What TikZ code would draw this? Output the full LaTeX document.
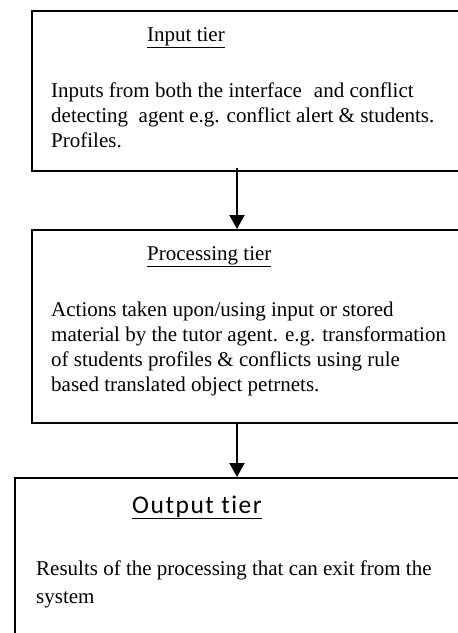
\documentclass[tikz,border=0pt]{standalone}
\usepackage{fontspec}
\setmainfont{Liberation Serif}
\newfontfamily\calfont[Ligatures=NoCommon,LetterSpace=6]{Carlito}
\usetikzlibrary{arrows.meta}
\tikzset{
  tier/.style={draw=black, line width=1.6pt, inner sep=0pt, anchor=north west},
  body/.style={anchor=base west, inner sep=0pt, font=\fontsize{21}{25}\selectfont},
  head/.style={anchor=base west, inner sep=0pt, font=\fontsize{21}{25}\selectfont},
  outhead/.style={anchor=base west, inner sep=0pt, font=\calfont\fontsize{25.5}{30}\selectfont},
  flow/.style={line width=2pt, -{Triangle[width=15pt,length=14pt]}}
}
\begin{document}
\begin{tikzpicture}[x=1pt,y=1pt]
\useasboundingbox (0,0) rectangle (458,-633);
\clip (0,0) rectangle (458,-633);
% boxes
\node[tier, minimum width=460pt, minimum height=160pt] (b1) at (31,-10) {};
\node[tier, minimum width=460pt, minimum height=193pt] (b2) at (31,-229) {};
\node[tier, minimum width=480pt, minimum height=190pt] (b3) at (14,-477) {};
% box 1 text
\node[head] (h1) at (147,-41) {\underline{Input tier}};
\node[body] (t11) at (51,-97) {Inputs from both the interface\hspace{12pt}and conflict};
\node[body] (t12) at (51,-122) {detecting\ \ agent e.g. conflict alert \& students.};
\node[body] (t13) at (51,-147) {Profiles.};
% box 2 text
\node[head] (h2) at (147,-260) {\underline{Processing tier}};
\node[body] (t21) at (51,-316) {Actions taken upon/using input or stored};
\node[body] (t22) at (51,-341) {material by the tutor agent. e.g. transformation};
\node[body] (t23) at (51,-366) {of students profiles \& conflicts using rule};
\node[body] (t24) at (51,-391) {based translated object petrnets.};
% box 3 text
\node[outhead] (h3) at (132,-513) {\underline{Output tier}};
\node[body] (t31) at (36,-575) {Results of the processing that can exit from the};
\node[body] (t32) at (36,-603) {system};
% arrows
\draw[flow] ([xshift=206pt,yshift=4pt]b1.south west) -- ([xshift=206pt]b2.north west);
\draw[flow] ([xshift=206pt]b2.south west) -- ([xshift=223pt]b3.north west);
\end{tikzpicture}
\end{document}
